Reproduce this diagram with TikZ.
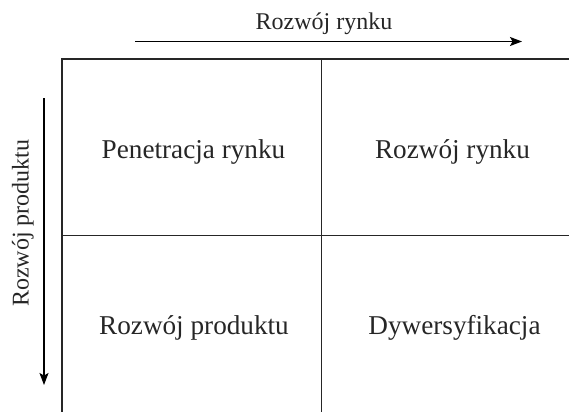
\documentclass[tikz,border=0pt]{standalone}
\usepackage{fontspec}
\setmainfont{Liberation Serif}
\usetikzlibrary{arrows.meta}
\begin{document}
\begin{tikzpicture}[x=1pt,y=-1pt,
  grid/.style={line width=1.1pt,black!85},
  axis/.style={line width=1.1pt,-{Stealth[length=12pt,width=9pt,inset=2.5pt]}},
  lbl/.style={text=black!85,inner sep=0pt,anchor=base},
  celltext/.style={lbl,font=\fontsize{27.2}{32}\selectfont},
  axistext/.style={lbl,font=\fontsize{24}{28}\selectfont}]
\useasboundingbox (0,0) rectangle (569,412);
% grid
\coordinate (tl) at (62,59);
\coordinate (tr) at (569,59);
\coordinate (bl) at (62,412);
\coordinate (mt) at (321.5,59);
\coordinate (mb) at (321.5,412);
\coordinate (ml) at (62,235.5);
\coordinate (mr) at (569,235.5);
\draw[grid] (tr) -- (tl) -- (bl);
\draw[grid] (mt) -- (mb);
\draw[grid] (ml) -- (mr);
% axes
\coordinate (a1) at (135,41.5);
\coordinate (a2) at (522,41.5);
\draw[axis] (a1) -- (a2);
\node[axistext] (top) at (324,30) {Rozwój rynku};
\coordinate (b1) at (44,98);
\coordinate (b2) at (44,385);
\draw[axis] (b1) -- (b2);
\node[axistext,rotate=90] (left) at (28.5,223) {Rozwój produktu};
% cells
\node[celltext] (c1) at (193.5,158) {Penetracja rynku};
\node[celltext] (c2) at (452.5,158) {Rozwój rynku};
\node[celltext] (c3) at (194,334) {Rozwój produktu};
\node[celltext] (c4) at (454.5,334) {Dywersyfikacja};
\end{tikzpicture}
\end{document}
